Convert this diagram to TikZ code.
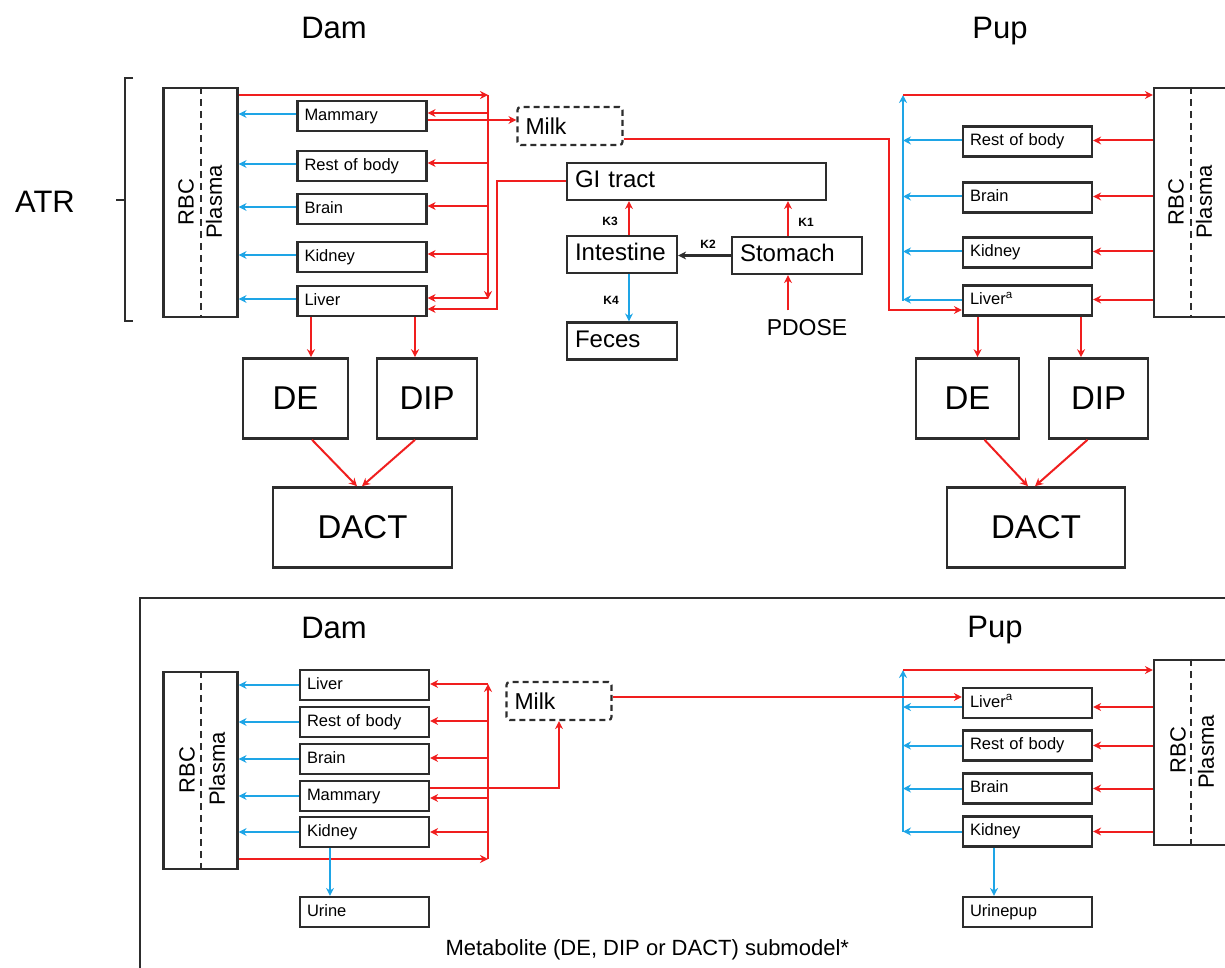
\documentclass[tikz,border=0pt]{standalone}
\usepackage{fontspec}
\setmainfont{Liberation Sans}
\usetikzlibrary{arrows.meta,positioning}
\definecolor{artred}{RGB}{240,30,30}
\definecolor{artblue}{RGB}{30,165,230}
\definecolor{boxgray}{RGB}{45,45,45}
\begin{document}
\begin{tikzpicture}[x=1pt,y=-1pt,>={Stealth[length=8pt,width=8pt]},
  organ/.style={draw=boxgray, line width=2.2pt, text width=115pt, inner xsep=7pt, align=left, minimum height=30pt, text height=12pt, text depth=3.5pt, font=\fontsize{16.5}{18}\selectfont},
  gut/.style={draw=boxgray, line width=2.2pt, text width=#1, inner xsep=8pt, align=left, minimum height=37pt, text height=17pt, text depth=5pt, font=\fontsize{24}{26}\selectfont},
  milkbox/.style={draw=boxgray, line width=2.2pt, dash pattern=on 6pt off 4pt, rounded corners=3pt, text width=89pt, inner xsep=8pt, align=left, minimum height=38pt, font=\fontsize{23}{25}\selectfont},
  bigbox/.style={draw=boxgray, line width=2.6pt, minimum height=80pt, font=\fontsize{33}{36}\selectfont},
  blood/.style={draw=boxgray, line width=2.2pt, minimum width=74pt},
  bloodtxt/.style={rotate=90, font=\fontsize{22}{24}\selectfont},
  sep/.style={boxgray, line width=2pt, dash pattern=on 7pt off 5pt},
  title/.style={font=\fontsize{31}{34}\selectfont},
  klab/.style={font=\bfseries\fontsize{12}{14}\selectfont},
  rd/.style={artred, line width=2pt},
  bl/.style={artblue, line width=2pt}]
\useasboundingbox (0,0) rectangle (1225,968);

\node[title, anchor=base] (dTitle) at (334,39) {Dam};
\node[title, anchor=base] (pTitle) at (1000,39) {Pup};
\node[title] (atr) at (45,202) {ATR};
\draw[boxgray, line width=2pt] (133,78) -- (125,78) -- (125,321) -- (133,321) (125,200) -- (116,200);

\node[blood, minimum height=229pt] (dRBC) at (200.5,202.5) {};
\draw[sep] (dRBC.north) -- (dRBC.south);
\node[bloodtxt] (dRBCt) at (186,202) {RBC};
\node[bloodtxt] (dPlas) at (214,202) {Plasma};
\node[organ] (dMam) at (362,116) {Mammary};
\node[organ] (dRest) at (362,166) {Rest of body};
\node[organ] (dBrain) at (362,209) {Brain};
\node[organ] (dKid) at (362,257) {Kidney};
\node[organ] (dLiv) at (362,301) {Liver};
\foreach \o in {dMam,dRest,dBrain,dKid,dLiv}
  \draw[bl,->] ([yshift=2]\o.west) -- ([yshift=2]\o.west -| dRBC.east);
\coordinate (dTopR) at (488,95);
\coordinate (dBotR) at (488,299);
\draw[rd,->] (dRBC.east |- dTopR) -- (dTopR);
\draw[rd,->] (dTopR) -- (dBotR);
\foreach \o in {dMam,dRest,dBrain,dKid,dLiv}
  \draw[rd,->] ([yshift=3]\o.east -| dTopR) -- ([yshift=3]\o.east);
\node[milkbox] (dMilk) at (570,126) {Milk};
\draw[rd,->] ([yshift=-4]dMam.east) -- ([yshift=-4]dMam.east -| dMilk.west);

\node[gut=243pt] (gGI) at (696.5,181.5) {GI tract};
\node[gut=94pt] (gInt) at (622,254.5) {Intestine};
\node[gut=114pt] (gSto) at (797,255.5) {Stomach};
\node[gut=94pt] (gFec) at (622,341) {Feces};
\node[font=\fontsize{23}{25}\selectfont] (gDose) at (807,328) {PDOSE};
\draw[rd,->] ([xshift=7]gInt.north) -- ([xshift=7]gInt.north |- gGI.south);
\node[klab] (k3) at (610,221) {K3};
\draw[rd,->] ([xshift=-9]gSto.north) -- ([xshift=-9]gSto.north |- gGI.south);
\node[klab] (k1) at (806,222) {K1};
\draw[->, boxgray, line width=2pt] (gSto.west) -- (gSto.west -| gInt.east);
\node[klab] (k2) at (708,244) {K2};
\draw[bl,->] ([xshift=7]gInt.south) -- ([xshift=7]gInt.south |- gFec.north);
\node[klab] (k4) at (611,300) {K4};
\draw[rd,->] ([xshift=-9,yshift=6]gSto.south |- gDose.north) -- ([xshift=-9]gSto.south);
\coordinate (gBend) at (497,309);
\draw[rd,->] (gGI.west) -- (gGI.west -| gBend) -- (gBend) -- (gBend -| dLiv.east);

\node[bigbox, minimum width=105pt] (dDE) at (295.5,398.5) {DE};
\node[bigbox, minimum width=100pt] (dDIP) at (427,398.5) {DIP};
\node[bigbox, minimum width=179pt] (dDACT) at (362.5,527.5) {DACT};
\draw[rd,->] ([xshift=-51]dLiv.south) -- ([xshift=-51]dLiv.south |- dDE.north);
\draw[rd,->] ([xshift=53]dLiv.south) -- ([xshift=53]dLiv.south |- dDIP.north);
\draw[rd,->] ([xshift=16.5]dDE.south) -- ([xshift=-5.5]dDACT.north);
\draw[rd,->] ([xshift=-12]dDIP.south) -- ([xshift=-0.5]dDACT.north);

\node[blood, minimum height=229pt] (pRBC) at (1191,202.5) {};
\draw[sep] (pRBC.north) -- (pRBC.south);
\node[bloodtxt] (pRBCt) at (1176,202) {RBC};
\node[bloodtxt] (pPlas) at (1204,202) {Plasma};
\node[organ] (pRest) at (1027.5,141.5) {Rest of body};
\node[organ] (pBrain) at (1027.5,197.5) {Brain};
\node[organ] (pKid) at (1027.5,252.5) {Kidney};
\node[organ] (pLiv) at (1027.5,300.5) {Liver\textsuperscript{a}};
\coordinate (pTopB) at (903,95);
\foreach \o in {pRest,pBrain,pKid,pLiv}{
  \draw[rd,->] ([yshift=1]\o.east -| pRBC.west) -- ([yshift=1]\o.east);
  \draw[bl,->] ([yshift=1]\o.west) -- ([yshift=1]\o.west -| pTopB);
}
\draw[bl,->] (pLiv.west -| pTopB) -- (pTopB);
\draw[rd,->] (pTopB) -- (pTopB -| pRBC.west);
\coordinate (mBend) at (889,310);
\draw[rd,->] ([yshift=-13]dMilk.east) -- ([yshift=-13]dMilk.east -| mBend) -- (mBend) -- (mBend -| pLiv.west);

\node[bigbox, minimum width=103pt] (pDE) at (967.5,398.5) {DE};
\node[bigbox, minimum width=99pt] (pDIP) at (1098.5,398.5) {DIP};
\node[bigbox, minimum width=178pt] (pDACT) at (1036,527.5) {DACT};
\draw[rd,->] ([xshift=-50]pLiv.south) -- ([xshift=-50]pLiv.south |- pDE.north);
\draw[rd,->] ([xshift=53.5]pLiv.south) -- ([xshift=53.5]pLiv.south |- pDIP.north);
\draw[rd,->] ([xshift=17]pDE.south) -- ([xshift=-8]pDACT.north);
\draw[rd,->] ([xshift=-11]pDIP.south) -- ([xshift=-1]pDACT.north);

\draw[boxgray, line width=2.2pt] (140,598) rectangle (1245,995);
\node[title, anchor=base] (bTitle) at (334,638) {Dam};
\node[title, anchor=base] (bpTitle) at (995,637) {Pup};

\node[blood, minimum height=197pt] (bRBC) at (200.5,770.5) {};
\draw[sep] (bRBC.north) -- (bRBC.south);
\node[bloodtxt] (bRBCt) at (187,770) {RBC};
\node[bloodtxt] (bPlas) at (217,769) {Plasma};
\node[organ] (bLiv) at (364.5,685) {Liver};
\node[organ] (bRest) at (364.5,722) {Rest of body};
\node[organ] (bBrain) at (364.5,759) {Brain};
\node[organ] (bMam) at (364.5,796) {Mammary};
\node[organ] (bKid) at (364.5,832) {Kidney};
\node[organ] (bUrine) at (364.5,912) {Urine};
\foreach \o in {bLiv,bRest,bBrain,bMam,bKid}
  \draw[bl,->] (\o.west) -- (\o.west -| bRBC.east);
\coordinate (bBotR) at (488,859);
\coordinate (bTopR) at (488,684);
\draw[rd,->] (bRBC.east |- bBotR) -- (bBotR);
\draw[rd,->] (bBotR) -- (bTopR);
\foreach \o/\s in {bLiv/1,bRest/1,bBrain/1,bMam/-2,bKid/0}
  \draw[rd,->] ([yshift=\s]\o.east -| bTopR) -- ([yshift=\s]\o.east);
\draw[bl,->] ([xshift=-34.5]bKid.south) -- ([xshift=-34.5]bKid.south |- bUrine.north);
\node[milkbox] (bMilk) at (559,701) {Milk};
\draw[rd,->] ([yshift=8]bMam.east) -| (bMilk.south);

\node[blood, minimum height=185pt] (bpRBC) at (1191,752.5) {};
\draw[sep] (bpRBC.north) -- (bpRBC.south);
\node[bloodtxt] (bpRBCt) at (1178,750) {RBC};
\node[bloodtxt] (bpPlas) at (1206,752) {Plasma};
\node[organ] (bpLiv) at (1027.5,703) {Liver\textsuperscript{a}};
\node[organ] (bpRest) at (1027.5,745.5) {Rest of body};
\node[organ] (bpBrain) at (1027.5,788.5) {Brain};
\node[organ] (bpKid) at (1027.5,831.5) {Kidney};
\node[organ] (bpUrine) at (1027.5,912) {Urinepup};
\coordinate (bpTopB) at (903,670);
\foreach \o/\s in {bpLiv/-4,bpRest/0,bpBrain/0,bpKid/0}{
  \draw[rd,->] ([yshift=\s]\o.east -| bpRBC.west) -- ([yshift=\s]\o.east);
  \draw[bl,->] ([yshift=\s]\o.west) -- ([yshift=\s]\o.west -| bpTopB);
}
\draw[bl,->] (bpKid.west -| bpTopB) -- (bpTopB);
\draw[rd,->] (bpTopB) -- (bpTopB -| bpRBC.west);
\draw[rd,->] ([yshift=4]bMilk.east) -- ([yshift=4]bMilk.east -| bpLiv.west);
\draw[bl,->] ([xshift=-33.5]bpKid.south) -- ([xshift=-33.5]bpKid.south |- bpUrine.north);

\node[anchor=base west, font=\fontsize{22}{24}\selectfont] (meta) at (442,955) {Metabolite (DE, DIP or DACT) submodel*};
\end{tikzpicture}
\end{document}
